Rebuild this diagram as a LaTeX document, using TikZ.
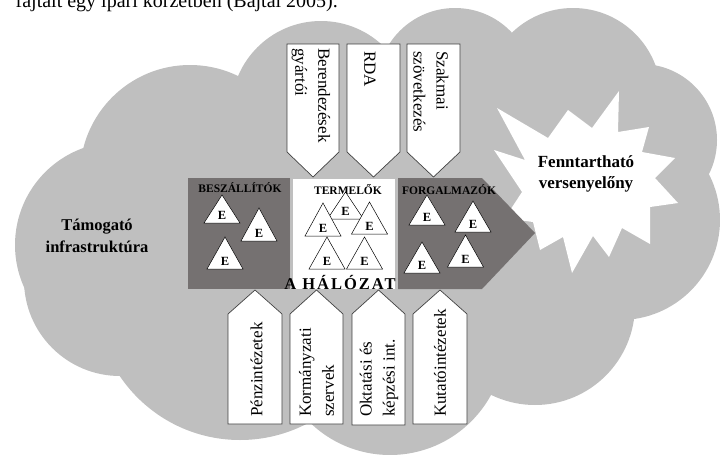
\documentclass[tikz,border=0pt]{standalone}
\usepackage{fontspec}
\setmainfont{Liberation Serif}
\definecolor{cloudgray}{RGB}{191,191,191}
\definecolor{netdark}{RGB}{117,113,113}
\newcommand{\etri}[4]{%
  \draw[etri] (#2,#3) -- (#2-18,#4) -- (#2+18,#4) -- cycle;
  \node[elabel] (#1) at (#2,#4-8) {E};}
\begin{document}
\begin{tikzpicture}[x=1pt,y=-1pt,
  lobe/.style={fill=cloudgray},
  arrowbox/.style={fill=white,draw=black!75,line width=0.7pt,line join=miter},
  vlabel/.style={font=\fontsize{17}{23}\selectfont,align=left,inner sep=0pt,anchor=west},
  grouplabel/.style={font=\fontsize{11.5}{13}\selectfont\bfseries,inner sep=0pt},
  etri/.style={fill=white,draw=black,line width=0.5pt,line join=miter},
  elabel/.style={font=\fontsize{12.5}{14}\selectfont\bfseries,inner sep=0pt},
  bigbold/.style={font=\fontsize{17}{21.5}\selectfont\bfseries,align=center,inner sep=0pt}]
\useasboundingbox (0,0) rectangle (720,455);

% clipped caption line at the top
\node[anchor=base east,inner sep=0pt,font=\fontsize{20}{24}\selectfont] (caption) at (338,8) {fajtáit egy ipari körzetben (Bajtai 2005).};

% cloud
\fill[lobe] (321,111) circle[radius=90pt];
\fill[lobe] (455,86) circle[radius=78pt];
\fill[lobe] (573,96) circle[radius=88pt];
\fill[lobe] (641,140) circle[radius=76pt];
\fill[lobe] (620,220) circle[radius=100pt];
\fill[lobe] (535,305) circle[radius=100pt];
\fill[lobe] (390,340) circle[radius=115pt];
\fill[lobe] (240,295) circle[radius=145pt];
\fill[lobe] (120,280) circle[radius=96pt];
\fill[lobe] (118,245) circle[radius=103pt];
\fill[lobe] (190,175) circle[radius=110pt];
\fill[lobe] (380,230) circle[radius=150pt];

% starburst
\fill[white] (497,108) -- (548,138) -- (568,110) -- (592,128) -- (619,91) -- (618,132)
  -- (649,127) -- (642,152) -- (675,158) -- (655,178) -- (678,203) -- (650,207)
  -- (650,244) -- (622,228) -- (609,257) -- (593,236) -- (572,273) -- (563,237)
  -- (540,250) -- (533,222) -- (505,218) -- (522,192) -- (494,150) -- (525,160) -- cycle;
\node[bigbold] (fv) at (586,174) {Fenntartható\\versenyelőny};

\node[bigbold,font=\fontsize{16.5}{21.5}\selectfont\bfseries] (tam) at (97,236) {Támogató\\infrastruktúra};

% the network
\fill[netdark] (188,178) rectangle (290,289);
\fill[white] (293,179) rectangle (395,289);
\fill[netdark] (398,178) -- (482,178) -- (535,233) -- (482,289) -- (398,289) -- cycle;

\node[grouplabel] (besz) at (240,188) {BESZÁLLÍTÓK};
\node[grouplabel] (term) at (348,190) {TERMELŐK};
\node[grouplabel] (forg) at (449,190) {FORGALMAZÓK};

\etri{e1}{222}{195}{223}
\etri{e2}{259}{208}{241}
\etri{e3}{225}{237}{269}
\etri{e4}{345.5}{192}{219}
\etri{e5}{323}{203}{236}
\etri{e6}{369.5}{202}{234}
\etri{e7}{327}{237}{269}
\etri{e8}{364.5}{237}{269}
\etri{e9}{427}{195}{225}
\etri{e10}{473}{201}{232}
\etri{e11}{422}{242}{273}
\etri{e12}{465.5}{235}{267}

\node[inner sep=0pt,font=\fontsize{16.5}{18}\selectfont\bfseries\addfontfeature{LetterSpace=12}] (halo) at (340,282) {A HÁLÓZAT};

% top arrow boxes
\draw[arrowbox] (287,44) -- (339,44) -- (339,152) -- (313,177) -- (287,152) -- cycle;
\draw[arrowbox] (347,44) -- (400,44) -- (400,152) -- (373.5,177) -- (347,152) -- cycle;
\draw[arrowbox] (407,44) -- (460,44) -- (460,152) -- (433.5,177) -- (407,152) -- cycle;
\node[vlabel,rotate=-90] (ber) at (311,48) {Berendezések\\gyártói};
\node[vlabel,rotate=-90] (rda) at (370,51) {RDA};
\node[vlabel,rotate=-90] (szak) at (431,51) {Szakmai\\szövetkezés};

% bottom arrow boxes
\draw[arrowbox] (228,424) -- (282,424) -- (282,314) -- (255,290) -- (228,314) -- cycle;
\draw[arrowbox] (290,424) -- (343,424) -- (343,314) -- (316.5,290) -- (290,314) -- cycle;
\draw[arrowbox] (352,425) -- (405,425) -- (405,314) -- (378.5,290) -- (352,314) -- cycle;
\draw[arrowbox] (413,424) -- (467,424) -- (467,314) -- (440,290) -- (413,314) -- cycle;
\node[vlabel,rotate=90] (penz) at (256.5,417) {Pénzintézetek};
\node[vlabel,rotate=90] (korm) at (316.5,417) {Kormányzati\\szervek};
\node[vlabel,rotate=90] (okt) at (379,417) {Oktatási és\\képzési int.};
\node[vlabel,rotate=90] (kut) at (440,417) {Kutatóintézetek};
\end{tikzpicture}
\end{document}
